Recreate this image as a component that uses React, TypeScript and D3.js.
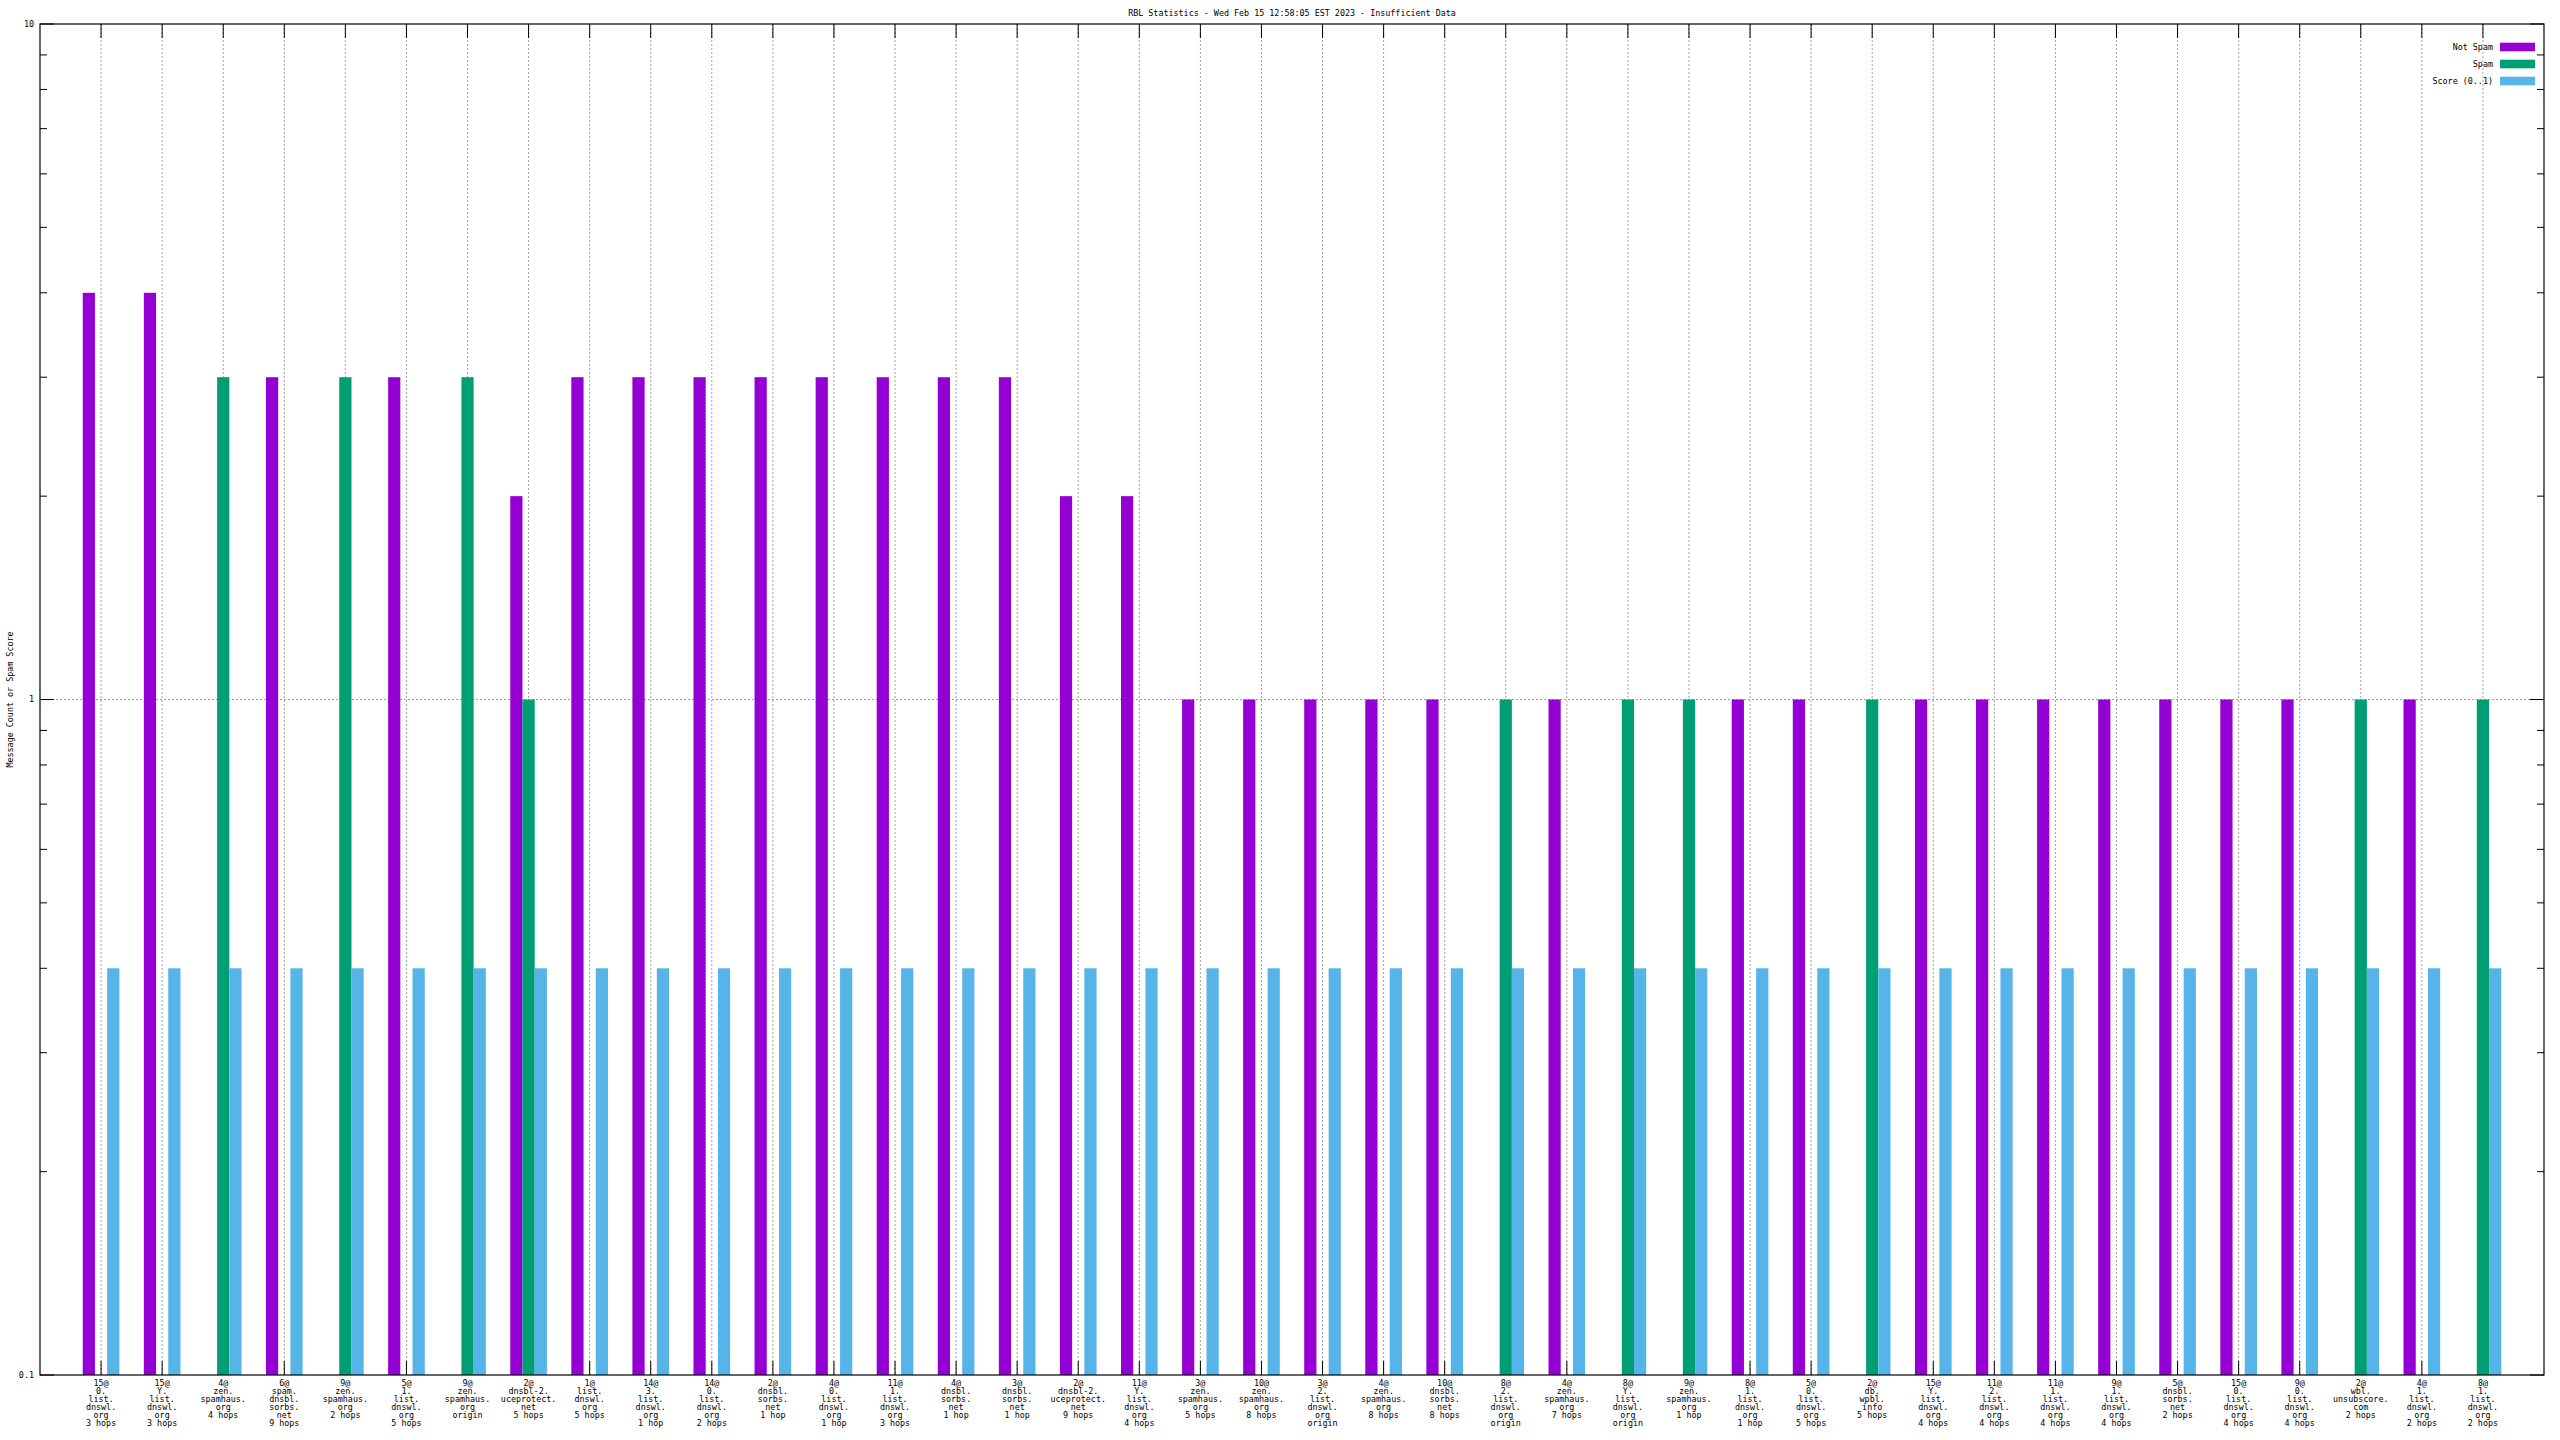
import React from 'react';
import * as d3 from 'd3';

const title = "RBL Statistics - Wed Feb 15 12:58:05 EST 2023 - Insufficient Data";
const yTitle = "Message Count or Spam Score";
const seriesNames = ["Not Spam", "Spam", "Score (0..1)"];
const seriesColors = ["#9400d3", "#009e73", "#56b4e9"];

const categories = [
  "15@\n0.\nlist.\ndnswl.\norg\n3 hops",
  "15@\nY.\nlist.\ndnswl.\norg\n3 hops",
  "4@\nzen.\nspamhaus.\norg\n4 hops",
  "6@\nspam.\ndnsbl.\nsorbs.\nnet\n9 hops",
  "9@\nzen.\nspamhaus.\norg\n2 hops",
  "5@\n1.\nlist.\ndnswl.\norg\n5 hops",
  "9@\nzen.\nspamhaus.\norg\norigin",
  "2@\ndnsbl-2.\nuceprotect.\nnet\n5 hops",
  "1@\nlist.\ndnswl.\norg\n5 hops",
  "14@\n3.\nlist.\ndnswl.\norg\n1 hop",
  "14@\n0.\nlist.\ndnswl.\norg\n2 hops",
  "2@\ndnsbl.\nsorbs.\nnet\n1 hop",
  "4@\n0.\nlist.\ndnswl.\norg\n1 hop",
  "11@\n1.\nlist.\ndnswl.\norg\n3 hops",
  "4@\ndnsbl.\nsorbs.\nnet\n1 hop",
  "3@\ndnsbl.\nsorbs.\nnet\n1 hop",
  "2@\ndnsbl-2.\nuceprotect.\nnet\n9 hops",
  "11@\nY.\nlist.\ndnswl.\norg\n4 hops",
  "3@\nzen.\nspamhaus.\norg\n5 hops",
  "10@\nzen.\nspamhaus.\norg\n8 hops",
  "3@\n2.\nlist.\ndnswl.\norg\norigin",
  "4@\nzen.\nspamhaus.\norg\n8 hops",
  "10@\ndnsbl.\nsorbs.\nnet\n8 hops",
  "8@\n2.\nlist.\ndnswl.\norg\norigin",
  "4@\nzen.\nspamhaus.\norg\n7 hops",
  "8@\nY.\nlist.\ndnswl.\norg\norigin",
  "9@\nzen.\nspamhaus.\norg\n1 hop",
  "8@\n1.\nlist.\ndnswl.\norg\n1 hop",
  "5@\n0.\nlist.\ndnswl.\norg\n5 hops",
  "2@\ndb.\nwpbl.\ninfo\n5 hops",
  "15@\nY.\nlist.\ndnswl.\norg\n4 hops",
  "11@\n2.\nlist.\ndnswl.\norg\n4 hops",
  "11@\n1.\nlist.\ndnswl.\norg\n4 hops",
  "9@\n1.\nlist.\ndnswl.\norg\n4 hops",
  "5@\ndnsbl.\nsorbs.\nnet\n2 hops",
  "15@\n0.\nlist.\ndnswl.\norg\n4 hops",
  "9@\n0.\nlist.\ndnswl.\norg\n4 hops",
  "2@\nwbl.\nunsubscore.\ncom\n2 hops",
  "4@\n1.\nlist.\ndnswl.\norg\n2 hops",
  "8@\n1.\nlist.\ndnswl.\norg\n2 hops",
];

const notSpam = [4, 4, 0, 3, 0, 3, 0, 2, 3, 3, 3, 3, 3, 3, 3, 3, 2, 2, 1, 1, 1, 1, 1, 0, 1, 0, 0, 1, 1, 0, 1, 1, 1, 1, 1, 1, 1, 0, 1, 0];
const spam = [0, 0, 3, 0, 3, 0, 3, 1, 0, 0, 0, 0, 0, 0, 0, 0, 0, 0, 0, 0, 0, 0, 0, 1, 0, 1, 1, 0, 0, 1, 0, 0, 0, 0, 0, 0, 0, 1, 0, 1];
const score = [0.4, 0.4, 0.4, 0.4, 0.4, 0.4, 0.4, 0.4, 0.4, 0.4, 0.4, 0.4, 0.4, 0.4, 0.4, 0.4, 0.4, 0.4, 0.4, 0.4, 0.4, 0.4, 0.4, 0.4, 0.4, 0.4, 0.4, 0.4, 0.4, 0.4, 0.4, 0.4, 0.4, 0.4, 0.4, 0.4, 0.4, 0.4, 0.4, 0.4];

const yMajorTicks = [0.1, 1, 10];
const yMajorLabels = ["0.1", "1", "10"];
const yMinorTicks = [0.2, 0.3, 0.4, 0.5, 0.6, 0.7, 0.8, 0.9, 2, 3, 4, 5, 6, 7, 8, 9];

const W = 2560, H = 1440;
const L = 40, R = 2544, T = 24, B = 1375;
const FONT = "'DejaVu Sans Mono', monospace";

export default function App() {
  const series = [notSpam, spam, score];
  const x = d3.scaleLinear().domain([-1, categories.length]).range([L, R]);
  const y = d3.scaleLog().domain([0.1, 10]).range([B, T]);
  const unit = x(1) - x(0);
  const bw = unit * 0.2;
  const bar = (i: number, s: number) => x(i) + (s - 1) * bw - bw / 2;
  const majorLen = 14, minorLen = 7;
  const grid = '#a0a0a0';

  return (
    <svg width={W} height={H} style={{ position: 'absolute', left: 0, top: 0, background: '#fff' }}
      fontFamily={FONT} fontSize={8.4}>
      <rect x={0} y={0} width={W} height={H} fill="#fff" />
      {/* grid */}
      {categories.map((_, i) => (
        <line key={'gx' + i} x1={x(i)} x2={x(i)} y1={T} y2={B} stroke={grid} strokeWidth={1} strokeDasharray="2,2" />
      ))}
      <line x1={L} x2={R} y1={y(1)} y2={y(1)} stroke={grid} strokeWidth={1} strokeDasharray="2,2" />
      {/* ticks */}
      {categories.map((_, i) => (
        <g key={'tx' + i}>
          <line x1={x(i)} x2={x(i)} y1={B} y2={B - majorLen} stroke="#000" />
          <line x1={x(i)} x2={x(i)} y1={T} y2={T + majorLen} stroke="#000" />
        </g>
      ))}
      {yMajorTicks.map((v, i) => (
        <g key={'ty' + i}>
          <line x1={L} x2={L + majorLen} y1={y(v)} y2={y(v)} stroke="#000" />
          <line x1={R} x2={R - majorLen} y1={y(v)} y2={y(v)} stroke="#000" />
        </g>
      ))}
      {yMinorTicks.map((v, i) => (
        <g key={'tm' + i}>
          <line x1={L} x2={L + minorLen} y1={y(v)} y2={y(v)} stroke="#000" />
          <line x1={R} x2={R - minorLen} y1={y(v)} y2={y(v)} stroke="#000" />
        </g>
      ))}
      {/* bars */}
      {series.map((vals, s) => vals.map((v, i) => v > 0 ? (
        <rect key={'b' + s + '_' + i} x={bar(i, s)} y={y(v)} width={bw} height={B - y(v)} fill={seriesColors[s]} />
      ) : null))}
      {/* border */}
      <rect x={L} y={T} width={R - L} height={B - T} fill="none" stroke="#000" strokeWidth={1.2} />
      {/* y labels */}
      {yMajorTicks.map((v, i) => (
        <text key={'yl' + i} x={L - 6} y={y(v)} dy="0.35em" textAnchor="end" fill="#000">{yMajorLabels[i]}</text>
      ))}
      {/* x labels */}
      {categories.map((c, i) => (
        <text key={'xl' + i} textAnchor="middle" fill="#000">
          {c.split('\n').map((line, k) => (
            <tspan key={k} x={x(i)} y={1383 + k * 8} dy="0.35em">{line}</tspan>
          ))}
        </text>
      ))}
      {/* title */}
      <text x={(L + R) / 2} y={13} dy="0.35em" textAnchor="middle" fill="#000">{title}</text>
      {/* y title */}
      <text transform={`translate(10,${(T + B) / 2}) rotate(-90)`} dy="0.35em" textAnchor="middle" fill="#000">{yTitle}</text>
      {/* legend */}
      {seriesNames.map((n, i) => (
        <g key={'lg' + i}>
          <text x={2493} y={47 + i * 17} dy="0.35em" textAnchor="end" fill="#000">{n}</text>
          <rect x={2500} y={47 + i * 17 - 4.3} width={35} height={8.6} fill={seriesColors[i]} />
        </g>
      ))}
    </svg>
  );
}
